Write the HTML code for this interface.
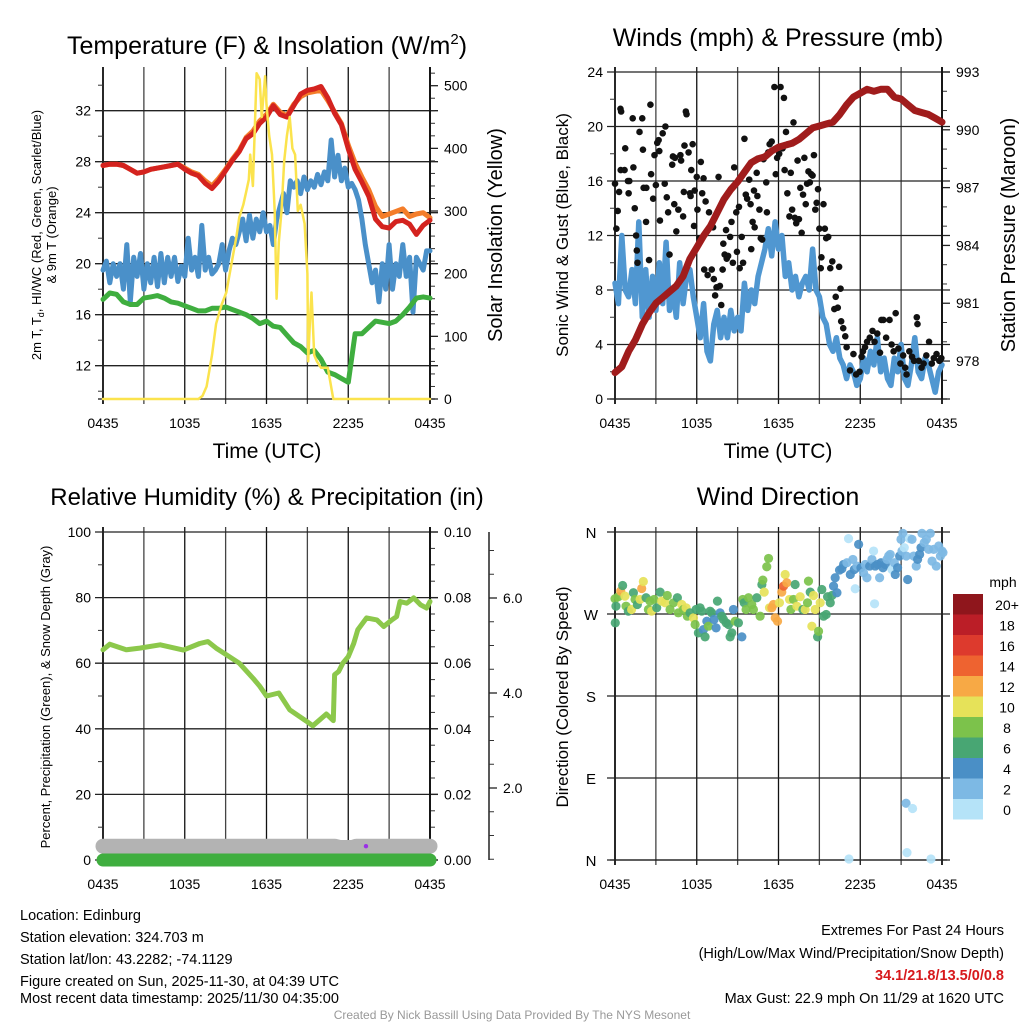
<!DOCTYPE html>
<html><head><meta charset="utf-8"><style>
html,body{margin:0;padding:0;background:#fff;}
svg{display:block;font-family:"Liberation Sans",Arial,sans-serif;}
</style></head><body>
<svg id="chart" width="1024" height="1024" viewBox="0 0 1024 1024" xmlns="http://www.w3.org/2000/svg">
<rect x="0" y="0" width="1024" height="1024" fill="#fff"/>
<text x="267" y="54" font-size="25" text-anchor="middle">Temperature (F) &amp; Insolation (W/m<tspan font-size="15" dy="-10">2</tspan><tspan dy="10">)</tspan></text>
<text x="778" y="46" font-size="25" text-anchor="middle">Winds (mph) &amp; Pressure (mb)</text>
<text x="267" y="505" font-size="24" text-anchor="middle">Relative Humidity (%) &amp; Precipitation (in)</text>
<text x="778" y="505" font-size="25" text-anchor="middle">Wind Direction</text>

<text x="267" y="458" font-size="21" text-anchor="middle">Time (UTC)</text>
<text x="778" y="458" font-size="21" text-anchor="middle">Time (UTC)</text>

<text transform="translate(41,235) rotate(-90)" font-size="13" text-anchor="middle">2m T, T<tspan font-size="9" dy="3">d</tspan><tspan dy="-3">, HI/WC (Red, Green, Scarlet/Blue)</tspan></text>
<text transform="translate(56,235) rotate(-90)" font-size="13" text-anchor="middle">&amp; 9m T (Orange)</text>
<text transform="translate(502,235) rotate(-90)" font-size="20" text-anchor="middle">Solar Insolation (Yellow)</text>
<text transform="translate(568,235) rotate(-90)" font-size="17" text-anchor="middle">Sonic Wind &amp; Gust (Blue, Black)</text>
<text transform="translate(1015,235) rotate(-90)" font-size="20" text-anchor="middle">Station Pressure (Maroon)</text>
<text transform="translate(50,697) rotate(-90)" font-size="13" text-anchor="middle">Percent, Precipitation (Green), &amp; Snow Depth (Gray)</text>
<text transform="translate(568,697) rotate(-90)" font-size="17" text-anchor="middle">Direction (Colored By Speed)</text>

<g font-size="14.5">
<text x="20" y="920">Location: Edinburg</text>
<text x="20" y="942">Station elevation: 324.703 m</text>
<text x="20" y="964">Station lat/lon: 43.2282; -74.1129</text>
<text x="20" y="986">Figure created on Sun, 2025-11-30, at 04:39 UTC</text>
<text x="20" y="1003">Most recent data timestamp: 2025/11/30 04:35:00</text>
</g>
<g font-size="14.5" text-anchor="end">
<text x="1004" y="935">Extremes For Past 24 Hours</text>
<text x="1004" y="958">(High/Low/Max Wind/Precipitation/Snow Depth)</text>
<text x="1004" y="980" fill="#d7191c" font-weight="bold">34.1/21.8/13.5/0/0.8</text>
<text x="1004" y="1003">Max Gust: 22.9 mph On 11/29 at 1620 UTC</text>
</g>
<text x="512" y="1019" font-size="12" fill="#999" text-anchor="middle">Created By Nick Bassill Using Data Provided By The NYS Mesonet</text>
</svg>
<script>
// ---------- DATA ----------
const timeTickLabels = ["0435","1035","1635","2235","0435"];
const tempTickLabels = [12,16,20,24,28,32];
const solarTickLabels = [0,100,200,300,400,500];
const windTickLabels = [0,4,8,12,16,20,24];
const pressureTickLabels = [978,981,984,987,990,993];
const rhTickLabels = [0,20,40,60,80,100];
const precipTickLabels = ["0.00","0.02","0.04","0.06","0.08","0.10"];
const snowTickLabels = ["2.0","4.0","6.0"];
const dirTickLabels = ["N","E","S","W","N"];
const speedBins = ["0","2","4","6","8","10","12","14","16","18","20+"];

const tempHours = [0,0.5,1,1.5,2,2.5,3,3.5,4,4.5,5,5.5,6,6.5,7,7.5,8,8.5,9,9.5,10,10.5,11,11.5,12,12.5,13,13.5,14,14.5,15,15.5,16,16.5,17,17.5,18,18.5,19,19.5,20,20.5,21,21.5,22,22.5,23,23.5,24];
const tempRed =    [27.7,27.8,27.8,27.7,27.4,27.1,27.2,27.4,27.5,27.6,27.7,27.8,27.4,27.1,26.9,26.3,25.9,26.5,27.3,28.1,28.8,29.8,30.2,31.0,31.5,32.4,31.7,31.5,32.4,33.3,33.6,33.7,33.9,33.0,31.8,30.9,29.0,27.4,26.4,25.3,23.5,22.9,22.8,23.3,23.4,23.1,22.3,23.0,23.4];
const tempOrange = [27.7,27.8,27.8,27.7,27.4,27.1,27.2,27.4,27.5,27.6,27.7,27.8,27.5,27.2,27.0,26.5,26.1,26.7,27.4,28.2,28.9,29.9,30.4,31.2,31.7,32.5,31.9,31.6,32.5,33.1,33.4,33.5,33.6,32.8,31.9,31.0,29.3,27.9,26.8,25.8,24.5,23.7,23.9,24.1,24.3,23.7,23.9,24.0,23.6];
const dewGreen =   [17.2,17.7,17.6,17.0,16.8,16.8,17.3,17.4,17.5,17.3,17.0,16.9,16.7,16.5,16.3,16.3,16.5,16.5,16.6,16.4,16.2,16.0,15.7,15.3,15.5,15.1,15.0,14.4,13.8,13.5,13.0,13.2,12.5,11.5,11.3,11.0,10.7,14.5,14.5,15.0,15.5,15.4,15.3,15.5,16.0,16.6,17.3,17.4,17.3];

const hiwcHours = [0,0.25,0.5,0.75,1,1.25,1.5,1.75,2,2.25,2.5,2.75,3,3.25,3.5,3.75,4,4.25,4.5,4.75,5,5.25,5.5,5.75,6,6.25,6.5,6.75,7,7.25,7.5,7.75,8,8.25,8.5,8.75,9,9.25,9.5,9.75,10,10.25,10.5,10.75,11,11.25,11.5,11.75,12,12.25,12.5,12.75,13,13.25,13.5,13.75,14,14.25,14.5,14.75,15,15.25,15.5,15.75,16,16.25,16.5,16.75,17,17.25,17.5,17.75,18,18.25,18.5,18.75,19,19.25,19.5,19.75,20,20.25,20.5,20.75,21,21.25,21.5,21.75,22,22.25,22.5,22.75,23,23.25,23.5,23.75,24];
const hiwcBlue = [19.5,20.2,18.5,20.0,19.0,20.0,18.0,21.5,17.0,20.5,19.0,20.8,18.0,20.0,18.5,20.5,18.2,20.8,18.5,20.5,19.0,20.5,18.6,19.8,19.0,22.0,19.5,20.5,19.0,23.0,19.5,20.5,19.2,19.5,20.0,21.5,19.5,21.0,22.0,21.5,22.5,23.5,21.8,23.8,22.0,23.5,22.5,24.0,22.5,23.0,21.5,23.5,24.5,25.5,24.0,26.5,26.0,26.5,25.5,26.8,25.8,26.5,26.0,27.0,26.2,27.2,26.5,29.7,26.8,28.5,26.5,27.5,26.0,26.3,25.8,25.0,23.5,21.5,20.0,18.5,19.5,17.0,20.0,18.0,21.5,18.0,20.0,19.0,21.5,19.0,20.5,16.2,20.5,20.0,19.5,21.0,21.0];

const solarHours = [0,7.0,7.3,7.6,8.0,8.3,8.7,9.05,9.3,9.55,9.8,10.0,10.3,10.5,10.7,10.8,11.0,11.27,11.4,11.5,11.65,11.9,12.0,12.2,12.4,12.6,12.74,12.9,13.1,13.3,13.5,13.7,13.9,14.1,14.3,14.5,14.8,15.0,15.06,15.2,15.3,15.5,15.7,16.0,16.5,16.9,24];
const solarVals =  [0,0,5,20,70,120,150,170,200,230,260,290,310,330,350,390,340,520,515,510,450,515,470,420,390,300,160,250,300,380,420,450,400,390,300,310,280,200,60,130,170,70,60,50,50,0,0];

const windHours = hiwcHours;
const windSpeed = [8.5,7,12,8,7.5,9.5,7,13,6,9.5,6,9,6.5,10,7,11.5,6.5,8,6,10,7,9,9.5,7.5,6,4.5,7,3.5,2.8,5.5,6.5,4.5,6,4.5,6.5,5,6,5,8.5,6.5,8,7,9,10,11,12.5,10.5,13,11,12,9,10,8,9,7.5,8.5,9,8,11,8,7.5,6,5.5,4,3.5,4.5,3,2.5,1.5,2.5,2,1,1.5,3,2,3.5,2.5,4.5,2,3,1.5,1,3,2,4,1.5,1,2.5,4.5,2,1.5,3,2.5,1.5,0.5,2,2.5];

const gustHours = [0,0.1,0.2,0.3,0.4,0.45,0.42,0.7,0.75,1.0,0.95,1.05,1.3,1.35,1.45,1.55,1.6,1.65,1.8,2.0,2.05,2.1,2.3,2.28,2.5,2.6,2.65,2.8,2.9,3.0,3.1,3.2,3.25,3.3,3.5,3.7,3.65,3.8,3.9,4.0,4.2,4.25,4.35,4.4,4.5,4.65,4.8,4.85,5.0,5.05,5.1,5.2,5.25,5.4,5.5,5.55,5.6,5.7,5.8,5.85,6.0,6.05,6.2,6.3,6.4,6.5,6.55,6.65,6.8,6.9,7.1,7.2,7.25,7.35,7.45,7.6,7.7,7.8,7.9,7.95,8.05,8.15,8.2,8.3,8.45,8.55,8.65,8.75,8.9,8.95,9.1,9.15,9.3,9.4,9.5,9.6,9.7,9.85,9.95,10.0,10.1,10.2,10.25,10.4,10.45,10.6,10.7,10.8,10.9,11.1,11.15,11.25,11.35,11.5,11.7,11.8,11.9,12.05,12.15,12.3,12.4,12.45,12.55,12.65,12.7,12.8,12.9,13.0,13.1,13.2,13.3,13.4,13.5,13.6,13.7,13.8,13.9,14.0,14.1,14.2,14.3,14.4,14.5,14.6,14.7,14.8,14.9,15.0,15.1,15.15,15.3,15.4,15.5,15.65,15.8,15.95,16.1,16.2,16.35,16.45,16.55,16.6,16.75,16.9,17.0,17.25,17.5,17.7,17.95,18.1,18.2,18.35,18.5,18.7,18.9,19.05,19.25,19.45,19.55,19.7,19.9,20.15,20.3,20.45,20.6,20.8,20.95,21.15,21.3,21.4,21.6,21.8,21.95,22.15,22.2,22.3,22.5,22.65,22.85,23.05,23.25,23.4,23.6,23.8,23.95];
const gustSpeed = [15.8,12.5,13.8,15.2,21.3,21.1,16.8,16.8,18.4,15.1,16.0,16.0,20.6,17.0,14.0,12.0,10.9,10.0,19.6,20.6,18.3,15.5,15.5,13.0,10.2,21.6,16.5,14.7,17.9,15.7,18.8,19.0,18.2,13.1,19.5,20.0,15.8,14.8,13.7,10.6,17.2,17.8,14.3,17.7,12.3,13.9,17.9,17.5,13.4,15.2,18.6,21.1,20.9,18.1,15.1,14.9,16.8,18.7,12.7,15.3,16.3,13.9,11.8,17.4,15.1,16.2,9.5,14.5,9.1,13.7,9.5,12.6,8.8,7.6,8.2,16.3,8.3,6.9,9.5,11.4,10.6,12.4,10.3,10.5,11.9,13.0,10.0,17.0,13.7,10.8,14.1,9.6,11.9,10.0,19.1,15.0,14.7,16.1,14.3,11.0,13.0,15.3,12.6,16.6,14.9,13.9,11.8,11.7,17.6,15.9,13.7,18.1,18.7,18.9,22.9,16.5,17.7,18.0,22.9,18.4,22.1,16.8,19.6,15.1,18.7,13.4,16.6,13.9,20.3,13.3,12.9,17.5,13.2,15.5,12.2,15.0,17.7,14.3,15.8,16.7,15.9,16.5,16.4,17.9,13.9,14.4,15.4,12.5,9.6,10.4,14.3,12.5,11.8,11.9,9.6,10.1,6.6,7.5,6.7,9.7,8.1,5.7,5.2,4.6,3.8,2.1,3.3,1.8,2.0,3.1,3.5,3.8,4.2,4.5,5.0,4.2,4.8,3.4,5.8,5.8,4.5,5.8,4.0,3.5,6.3,3.7,2.6,3.2,2.3,1.8,3.5,3.1,2.8,6.0,5.5,2.8,2.3,2.6,3.2,4.2,2.6,3.0,3.3,2.8,3.0];

const pressHours = [0,0.5,1,1.5,2,2.5,3,3.5,4,4.5,5,5.5,6,6.5,7,7.5,8,8.5,9,9.5,10,10.5,11,11.5,12,12.5,13,13.5,14,14.5,15,15.5,16,16.5,17,17.5,18,18.5,19,19.5,20,20.5,21,21.5,22,22.5,23,23.5,24];
const pressVals = [977.4,977.7,978.5,979.1,979.9,980.5,981.0,981.3,981.6,981.9,982.4,983.3,983.9,984.5,985.0,985.7,986.4,986.9,987.3,987.8,988.3,988.5,988.6,988.9,989.1,989.2,989.3,989.5,989.8,990.1,990.2,990.3,990.4,990.8,991.3,991.7,991.9,992.1,992.0,992.1,992.1,991.7,991.6,991.3,991.0,990.9,990.8,990.6,990.4];

const rhHours = [0,0.5,1.7,2.7,4.2,5.9,7.1,7.7,8.3,9.05,10.0,11.1,11.5,12.0,12.9,13.7,14.9,15.4,16.4,16.9,17.0,17.3,17.6,18.0,18.4,18.7,19.35,20.1,20.6,21.2,21.55,21.8,22.3,22.8,23.3,23.75,24];
const rhVals =  [64.1,65.8,64.1,64.6,65.6,64.0,66.0,66.6,64.6,62.6,60.0,55.0,53.0,50.0,50.9,45.8,42.4,40.9,44.5,42.5,56.5,57.5,60.0,62.0,66.0,70.2,73.8,73.2,71.2,73.2,74.2,78.8,78.3,79.9,77.8,76.8,78.8];
const snowHours = [0,17.0,17.4,18.3,18.6,24];
const snowVals = [4.2,4.2,3.8,3.8,4.2,4.2];
const precipHours = [0,24];
const precipVals = [0,0];

const dirHours = [0,0.07,0.02,0.24,0.42,0.56,0.73,0.81,0.98,1.22,1.35,1.47,1.64,1.84,1.96,2.08,2.28,2.45,2.57,2.69,2.87,3.06,3.31,3.43,3.67,3.84,4.04,4.29,4.58,4.65,4.90,5.02,5.22,5.31,5.51,5.76,5.88,5.95,6.12,6.24,6.37,6.49,6.61,6.74,6.86,6.98,7.10,7.27,7.42,7.52,7.71,7.84,7.96,8.16,8.33,8.45,8.57,8.69,8.82,9.06,9.31,9.38,9.48,9.62,9.80,10.04,10.16,10.41,10.65,10.78,10.85,10.95,11.14,11.27,11.34,11.51,11.63,11.76,11.93,12.07,12.24,12.37,12.49,12.61,12.81,12.91,13.10,13.22,13.35,13.59,13.79,13.96,14.13,14.20,14.33,14.45,14.57,14.69,14.87,14.94,15.06,15.18,15.31,15.50,15.60,15.80,15.92,16.04,16.16,16.29,16.48,16.65,16.78,17.02,17.14,17.27,17.46,17.56,17.63,17.76,17.88,18.05,18.24,18.37,18.49,18.69,18.86,18.98,19.05,19.10,19.27,19.42,19.52,19.67,19.84,19.96,20.08,20.20,20.33,20.50,20.57,20.74,20.89,20.99,21.06,21.13,21.23,21.38,21.48,21.62,21.80,21.92,22.11,22.21,22.36,22.46,22.53,22.70,22.85,23.02,23.14,23.27,23.39,23.58,23.76,23.88,24.0,24.07,21.36,21.84,17.17,21.43,23.19];
const dirDegrees = [286.7,278.6,260.3,288.9,295.1,301.3,289.6,278.6,273.1,275.0,293.3,286.0,280.4,286.0,298.0,305.7,287.8,275.0,284.1,273.1,286.0,276.8,294.0,284.1,282.3,290.3,275.0,282.3,287.8,271.3,280.4,275.0,276.8,267.6,271.3,265.8,258.5,275.0,249.3,276.8,273.1,252.9,244.9,262.1,256.6,273.1,271.3,264.0,254.8,284.1,271.3,267.6,264.0,260.3,258.5,244.9,249.3,275.0,262.1,260.3,244.9,286.0,282.3,275.0,287.8,280.4,275.0,287.8,267.6,302.4,307.2,294.0,321.9,331.0,276.8,276.8,280.4,265.8,262.1,282.3,294.0,300.6,313.4,304.3,286.0,275.0,286.0,302.4,278.6,288.9,275.0,275.0,282.3,306.1,294.0,256.6,290.3,275.0,244.9,251.1,282.3,296.9,267.6,269.5,288.9,282.3,290.3,300.6,309.8,293.3,318.2,319.7,324.4,326.3,352.7,313.4,329.9,318.9,297.7,322.6,346.4,320.8,315.3,324.4,309.8,322.6,329.9,339.1,281.2,322.6,324.4,309.8,326.3,320.8,324.4,329.9,333.6,335.4,318.9,326.3,313.4,320.8,333.6,351.9,339.1,358.5,342.8,333.6,307.9,352.7,351.9,333.6,322.6,329.9,335.4,342.8,358.5,348.3,351.9,340.9,358.5,328.1,340.9,322.6,344.6,333.6,339.1,337.3,62.3,56.5,1.1,8.1,1.1];
const dirSpeeds = [8,6,6,8,12,6,10,8,6,10,6,8,6,10,12,10,6,8,8,10,8,6,6,10,10,8,8,8,6,8,10,8,10,8,6,10,8,6,6,6,6,4,6,4,8,6,6,4,4,6,4,6,6,6,6,6,6,4,8,6,4,8,6,8,8,8,8,6,8,6,8,10,8,8,10,12,12,12,12,10,12,14,10,12,10,8,8,6,10,10,6,10,8,8,6,10,10,10,6,8,10,6,6,6,6,6,6,4,4,4,4,4,4,2,0,4,2,4,0,2,4,4,2,2,2,4,2,0,0,4,4,2,4,4,4,2,2,2,0,2,4,4,4,2,2,2,0,2,4,0,2,2,2,4,4,4,2,2,2,2,2,2,2,2,2,2,2,2,2,0,0,0,0,0];
const speedColors = ["#b5e3f8","#7db9e4","#4a8fc6","#48a673","#7cc24b","#e6e259","#f7a945","#ee6330","#dd3a2d","#bb1e27","#8f161c"];

// ---------- RENDER ----------
const NS = "http://www.w3.org/2000/svg";
const svg = document.getElementById('chart');
function mk(tag, attrs, parent){
  const e = document.createElementNS(NS, tag);
  for (const k in attrs) e.setAttribute(k, attrs[k]);
  (parent || svg).appendChild(e);
  return e;
}
function group(name){
  const g = mk('g', {});
  
  
  return g;
}
function txt(str, x, y, size, anchor, parent, name){
  const t = mk('text', {x: x, y: y, 'font-size': size, 'text-anchor': anchor}, parent);
  t.textContent = str;
  
  
  return t;
}
function pathFrom(xs, ys, fx, fy){
  let d = '';
  for (let i = 0; i < xs.length; i++) d += (i ? 'L' : 'M') + fx(xs[i]).toFixed(1) + ',' + fy(ys[i]).toFixed(1);
  return d;
}
function line(parent, xs, ys, fx, fy, color, w, name){
  const p = mk('path', {d: pathFrom(xs, ys, fx, fy), fill: 'none', stroke: color, 'stroke-width': w, 'stroke-linejoin': 'round', 'stroke-linecap': 'round'}, parent);
  
  
  return p;
}

function frame(P, name){
  const g = group(name);
  const xs = h => P.x0 + h / 24 * (P.x1 - P.x0);
  for (let h = 0; h <= 24; h += 3) {
    const l = mk('line', {x1: xs(h), x2: xs(h), y1: P.top - 5, y2: P.bottom + 5, stroke: (h % 6 === 0) ? '#111' : '#444', 'stroke-width': (h===0||h===24)?1.8:1.3}, g);
    
    
  }
  timeTickLabels.forEach((s, i) => txt(s, xs(i * 6), P.bottom + 29, 14, 'middle', g, 'x-tick-label'));
  const b = mk('line', {x1: P.x0 - 5, x2: P.x1 + 5, y1: P.bottom, y2: P.bottom, stroke: '#111', 'stroke-width': 1.3}, g);
  
  
  return {g: g, xs: xs};
}
function hgrid(g, P, y, name){
  const l = mk('line', {x1: P.x0 - 8, x2: P.x1 + 8, y1: y, y2: y, stroke: '#222', 'stroke-width': 1.3}, g);
  
  
}
function minor(g, x, y, dir){
  const l = mk('line', {x1: x, x2: x + dir * 5, y1: y, y2: y, stroke: '#333', 'stroke-width': 1}, g);
  
  
}

// Panel 1: temperature
(function(){
  const P = {x0: 103, x1: 430, top: 72, bottom: 399};
  const f = frame(P, 'temperature-panel');
  const g = f.g, xs = f.xs;
  const yT = t => 365.7 - (t - 12) * 12.75;
  const yS = s => 399 - s * 0.6266;
  tempTickLabels.forEach(v => { hgrid(g, P, yT(v), 'temp-gridline'); txt(String(v), P.x0 - 12, yT(v) + 5, 14, 'end', g, 'temp-tick-label'); });
  for (let v = 10; v <= 34; v += 2) if (v % 4) minor(g, P.x0, yT(v), -1);
  solarTickLabels.forEach(v => { const l = mk('line', {x1: P.x1, x2: P.x1 + 8, y1: yS(v), y2: yS(v), stroke: '#222', 'stroke-width': 1.3}, g);   txt(String(v), P.x1 + 14, yS(v) + 5, 14, 'start', g, 'solar-tick-label'); });
  for (let v = 20; v <= 520; v += 20) if (v % 100) minor(g, P.x1, yS(v), 1);
  const al = mk('line', {x1: P.x1, x2: P.x1, y1: P.top - 5, y2: P.bottom, stroke: '#111', 'stroke-width': 1.8}, g);
  
  
  line(g, tempHours, tempOrange, xs, yT, '#f47d2a', 5, 'temp-9m-orange-line');
  line(g, tempHours, tempRed, xs, yT, '#d4231f', 5, 'temp-2m-red-line');
  line(g, hiwcHours, hiwcBlue, xs, yT, '#4a90c9', 5, 'heat-index-wind-chill-blue-line');
  line(g, tempHours, dewGreen, xs, yT, '#3fae3f', 5, 'dewpoint-green-line');
  line(g, solarHours, solarVals, xs, yS, '#fbe34d', 2.5, 'solar-insolation-line');
})();

// Panel 2: wind & pressure
(function(){
  const P = {x0: 615, x1: 942, top: 72, bottom: 399};
  const f = frame(P, 'wind-panel');
  const g = f.g, xs = f.xs;
  const yW = w => 399 - w * 13.625;
  const yP = p => 72 + (993 - p) * 19.27;
  windTickLabels.forEach(v => { hgrid(g, P, yW(v), 'wind-gridline'); txt(String(v), P.x0 - 12, yW(v) + 5, 14, 'end', g, 'wind-tick-label'); });
  for (let v = 2; v < 24; v += 4) minor(g, P.x0, yW(v), -1);
  pressureTickLabels.forEach(v => { const l = mk('line', {x1: P.x1, x2: P.x1 + 8, y1: yP(v), y2: yP(v), stroke: '#222', 'stroke-width': 1.3}, g);   txt(String(v), P.x1 + 14, yP(v) + 5, 14, 'start', g, 'pressure-tick-label'); });
  for (let v = 977; v <= 993; v += 1) if ((v - 978) % 3) minor(g, P.x1, yP(v), 1);
  const al = mk('line', {x1: P.x1, x2: P.x1, y1: P.top - 5, y2: P.bottom, stroke: '#111', 'stroke-width': 1.8}, g);
  
  
  line(g, windHours, windSpeed, xs, yW, '#5097d1', 5.5, 'sonic-wind-line');
  gustHours.forEach((h, i) => {
    const c = mk('circle', {cx: xs(h), cy: yW(gustSpeed[i]), r: 3.3, fill: '#111'}, g);
    
    
  });
  line(g, pressHours, pressVals, xs, yP, '#a01c1c', 7, 'station-pressure-line');
})();

// Panel 3: humidity
(function(){
  const P = {x0: 103, x1: 430, top: 532, bottom: 860};
  const f = frame(P, 'humidity-panel');
  const g = f.g, xs = f.xs;
  const yR = r => 860 - r * 3.28;
  rhTickLabels.forEach(v => { hgrid(g, P, yR(v), 'rh-gridline'); txt(String(v), P.x0 - 12, yR(v) + 5, 14, 'end', g, 'rh-tick-label'); });
  for (let v = 10; v < 100; v += 20) minor(g, P.x0, yR(v), -1);
  precipTickLabels.forEach((s, i) => { const l = mk('line', {x1: P.x1, x2: P.x1 + 8, y1: yR(i * 20), y2: yR(i * 20), stroke: '#222', 'stroke-width': 1.3}, g);   txt(s, P.x1 + 14, yR(i * 20) + 5, 14, 'start', g, 'precip-tick-label'); });
  for (let v = 5; v < 100; v += 5) if (v % 20) minor(g, P.x1, yR(v), 1);
  const al = mk('line', {x1: P.x1, x2: P.x1, y1: P.top - 5, y2: P.bottom, stroke: '#111', 'stroke-width': 1.8}, g);
  
  
  const ySn = s => 883 - s * 47.5;
  const sa = mk('line', {x1: 489, x2: 489, y1: 532, y2: 860, stroke: '#222', 'stroke-width': 1.5}, g);
  
  
  snowTickLabels.forEach((s, i) => { const v = (i + 1) * 2; const l = mk('line', {x1: 489, x2: 497, y1: ySn(v), y2: ySn(v), stroke: '#222', 'stroke-width': 1.3}, g);   txt(s, 503, ySn(v) + 5, 14, 'start', g, 'snow-tick-label'); });
  for (let v = 0.5; v < 7.3; v += 0.5) if (v % 2) minor(g, 489, ySn(v), 1);
  line(g, snowHours, snowVals, xs, yR, '#b3b3b3', 15, 'snow-depth-gray-band');
  line(g, precipHours, precipVals, xs, yR, '#3fae3f', 13, 'precipitation-green-band');
  line(g, rhHours, rhVals, xs, yR, '#8cc84b', 5, 'relative-humidity-line');
  const pd = mk('circle', {cx: xs(19.3), cy: yR(4.2), r: 2.2, fill: '#9b30e6'}, g);
  
  
})();

// Panel 4: wind direction
(function(){
  const P = {x0: 615, x1: 942, top: 532, bottom: 860};
  const f = frame(P, 'wind-direction-panel');
  const g = f.g, xs = f.xs;
  const yD = d => 860 - d * 328 / 360;
  dirTickLabels.forEach((s, i) => { hgrid(g, P, yD(i * 90), 'direction-gridline'); txt(s, P.x0 - 24, yD(i * 90) + 6, 15, 'middle', g, 'direction-tick-label'); });
  dirHours.forEach((h, i) => {
    const c = mk('circle', {cx: xs(h), cy: yD(dirDegrees[i]), r: 4.6, fill: speedColors[Math.min(10, Math.round(dirSpeeds[i] / 2))], 'fill-opacity': 0.92}, g);
    
    
  });
  const lg = group('speed-legend');
  txt('mph', 1003, 587, 14, 'middle', lg, 'legend-unit-label');
  speedBins.slice().reverse().forEach((s, j) => {
    const idx = 10 - j;
    const r = mk('rect', {x: 953, y: 594 + j * 20.5, width: 30, height: 20.5, fill: speedColors[idx]}, lg);
    
    
    txt(s, 1007, 594 + j * 20.5 + 16, 14, 'middle', lg, 'legend-label');
  });
})();
</script>
</body></html>
